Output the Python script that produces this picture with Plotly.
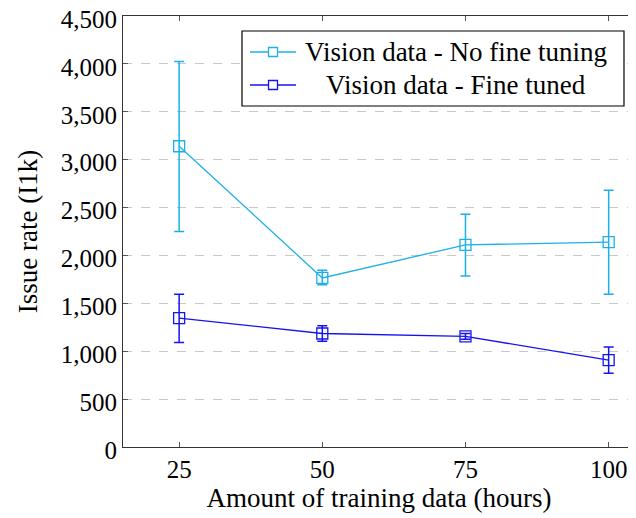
import plotly.graph_objects as go

hours = [25, 50, 75, 100]
x_ticks = [25, 50, 75, 100]
y_ticks = [0, 500, 1000, 1500, 2000, 2500, 3000, 3500, 4000, 4500]
y_tick_labels = ["0", "500", "1,000", "1,500", "2,000", "2,500", "3,000", "3,500", "4,000", "4,500"]

no_ft_name = "Vision data - No fine tuning"
no_ft_mean = [3140, 1765, 2110, 2140]
no_ft_upper = [4025, 1845, 2430, 2680]
no_ft_lower = [2250, 1695, 1785, 1595]

ft_name = "Vision data - Fine tuned"
ft_mean = [1345, 1185, 1155, 908]
ft_upper = [1595, 1265, 1185, 1045]
ft_lower = [1090, 1105, 1125, 770]

CYAN = "#1CB0EA"
BLUE = "#1414F0"
FONT = "Liberation Serif"


def series(name, mean, upper, lower, color):
    return go.Scatter(
        x=hours, y=mean, name=name, mode="lines+markers", showlegend=False,
        line=dict(color=color, width=1.3),
        marker=dict(symbol="square-open", size=11, color=color, line=dict(width=1.3, color=color)),
        error_y=dict(type="data", symmetric=False,
                     array=[u - m for u, m in zip(upper, mean)],
                     arrayminus=[m - l for m, l in zip(mean, lower)],
                     color=color, thickness=1.5, width=5),
    )


fig = go.Figure()
fig.add_trace(series(no_ft_name, no_ft_mean, no_ft_upper, no_ft_lower, CYAN))
fig.add_trace(series(ft_name, ft_mean, ft_upper, ft_lower, BLUE))

# Legend drawn as a boxed key (paper coordinates)
shapes = [dict(type="rect", xref="paper", yref="paper", x0=0.2324, x1=0.9785, y0=0.7912, y1=0.9652,
               line=dict(color="black", width=1.2), fillcolor="white", layer="above")]
annotations = []
for name, color, yc in [(no_ft_name, CYAN, 0.9165), (ft_name, BLUE, 0.8399)]:
    shapes.append(dict(type="line", xref="paper", yref="paper", x0=0.248, x1=0.338, y0=yc, y1=yc,
                       line=dict(color=color, width=1.3), layer="above"))
    shapes.append(dict(type="rect", xref="paper", yref="paper", xsizemode="pixel", ysizemode="pixel",
                       xanchor=0.293, yanchor=yc, x0=-4.5, x1=4.5, y0=-4.5, y1=4.5,
                       line=dict(color=color, width=1.3), fillcolor="white", layer="above"))
    annotations.append(dict(text=name, xref="paper", yref="paper", x=0.651, y=yc,
                            xanchor="center", yanchor="middle", showarrow=False,
                            font=dict(family=FONT, size=27, color="black")))

fig.update_layout(
    width=628, height=510,
    margin=dict(l=115, r=1, t=8, b=71),
    paper_bgcolor="white", plot_bgcolor="white",
    font=dict(family=FONT, size=25, color="black"),
    showlegend=False,
    shapes=shapes, annotations=annotations,
)
fig.update_xaxes(
    range=[15.2, 104.6], tickvals=x_ticks, ticktext=[str(v) for v in x_ticks],
    showgrid=False, zeroline=False, automargin=False, ticklabeloverflow="allow",
    showline=True, linecolor="#333333", linewidth=1, mirror="ticks",
    ticks="inside", ticklen=5, tickcolor="#555555",
    title=dict(text="Amount of training data (hours)", font=dict(family=FONT, size=27), standoff=4),
    tickfont=dict(family=FONT, size=25),
)
fig.update_yaxes(
    range=[0, 4500], tickvals=y_ticks, ticktext=y_tick_labels,
    showgrid=True, gridcolor="#c8c8c8", griddash="dash", gridwidth=1, zeroline=False,
    automargin=False, ticklabeloverflow="allow", ticklabelshift=3,
    showline=True, linecolor="#333333", linewidth=1, mirror="ticks",
    ticks="inside", ticklen=5, tickcolor="#555555",
    title=dict(text="Issue rate (I1k)", font=dict(family=FONT, size=27)),
    tickfont=dict(family=FONT, size=25),
)

fig.write_html("out.html")
